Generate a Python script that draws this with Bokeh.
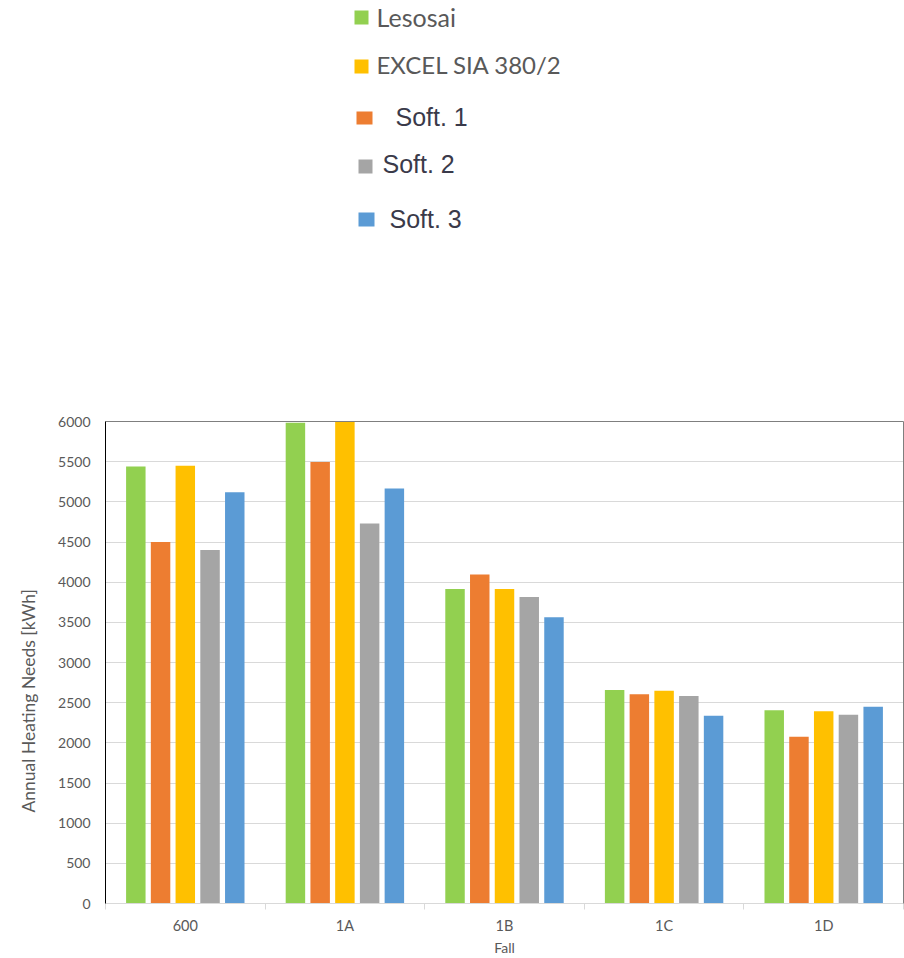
from bokeh.plotting import figure
from bokeh.models import ColumnDataSource, Range1d, LinearAxis, FixedTicker, Title
from bokeh.transform import dodge
from bokeh.layouts import column
from bokeh.core.properties import value
from bokeh.embed import file_html
from bokeh.resources import INLINE

# ---------------- data ----------------
categories = ["600", "1A", "1B", "1C", "1D"]
lesosai = [5440, 5985, 3915, 2657, 2405]
soft1 = [4500, 5495, 4095, 2605, 2075]
excel = [5450, 6000, 3915, 2648, 2392]
soft2 = [4400, 4730, 3815, 2582, 2350]
soft3 = [5120, 5165, 3563, 2338, 2450]
y_ticks = [0, 500, 1000, 1500, 2000, 2500, 3000, 3500, 4000, 4500, 5000, 5500, 6000]

# bar order in the chart and legend order
bar_series = ["Lesosai", "Soft. 1", "EXCEL SIA 380/2", "Soft. 2", "Soft. 3"]
legend_series = ["Lesosai", "EXCEL SIA 380/2", "Soft. 1", "Soft. 2", "Soft. 3"]
y_title = "Annual Heating Needs [kWh]"
x_title = "Fall"

# ---------------- styles ----------------
colors = {
    "Lesosai": "#92d050",
    "EXCEL SIA 380/2": "#ffc000",
    "Soft. 1": "#ed7d31",
    "Soft. 2": "#a5a5a5",
    "Soft. 3": "#5b9bd5",
}
cols = {"Lesosai": "les", "Soft. 1": "s1", "EXCEL SIA 380/2": "ex", "Soft. 2": "s2", "Soft. 3": "s3"}
offsets = [-0.31, -0.155, 0.0, 0.155, 0.31]
bar_width = 0.122
label_color = "#595959"

# category slot centres on a numeric axis (one unit per category)
centers = [i + 0.5 for i in range(len(categories))]
bounds = [float(i) for i in range(len(categories) + 1)]

src = ColumnDataSource(dict(cat=categories, pos=centers, les=lesosai, s1=soft1,
                            ex=excel, s2=soft2, s3=soft3))

FRAME_L, FRAME_R = 105, 903
W = 904
LEG_H = 380

# ---------------- legend panel (top) ----------------
lg = figure(width=W, height=LEG_H, x_range=Range1d(FRAME_L, FRAME_R), y_range=Range1d(LEG_H, 0),
            output_backend="svg", toolbar_location=None, x_axis_location=None,
            y_axis_location=None, min_border=0, min_border_left=FRAME_L,
            min_border_right=W - FRAME_R, outline_line_color=None)
lg.xgrid.visible = False
lg.ygrid.visible = False

# layout of legend entries: square (x0, y0, w, h), text start x, text center y, font, size, color
leg_layout = {
    "Lesosai":         ((354, 10, 14, 14), 376, 16, "Lato", "25px", label_color),
    "EXCEL SIA 380/2": ((354, 59, 14, 14), 376, 64, "Lato", "24px", label_color),
    "Soft. 1":         ((356, 111, 16, 13), 395, 116, "Liberation Sans", "25px", "#3a3a4a"),
    "Soft. 2":         ((358, 159, 14, 14), 382, 163, "Liberation Sans", "25px", "#3a3a4a"),
    "Soft. 3":         ((358, 212, 16, 14), 389, 218, "Liberation Sans", "25px", "#3a3a4a"),
}
for name in legend_series:
    (x0, y0, w, h), tx, ty, font, size, tcol = leg_layout[name]
    lg.rect(x=[x0 + w / 2], y=[y0 + h / 2], width=[w], height=[h],
            fill_color=colors[name], line_color=None)
    lg.text(x=[tx], y=[ty], text=[name], text_font=value(font), text_font_size=size,
            text_color=tcol, text_baseline="middle", text_align="left")

# ---------------- chart ----------------
p = figure(width=W, height=958 - LEG_H,
           x_range=Range1d(0, len(categories)),
           y_range=Range1d(0, 6000),
           output_backend="svg", toolbar_location=None, x_axis_location=None,
           min_border_left=FRAME_L, min_border_right=W - FRAME_R,
           min_border_top=41, min_border_bottom=54,
           outline_line_color=None)

for name, off in zip(bar_series, offsets):
    p.vbar(x=dodge("pos", off), top=cols[name], width=bar_width,
           source=src, fill_color=colors[name], line_color=None)

# grid
p.xgrid.visible = False
p.ygrid.ticker = FixedTicker(ticks=y_ticks)
p.ygrid.grid_line_color = "#d9d9d9"
p.ygrid.grid_line_width = 1

# y axis
ya = p.yaxis[0]
ya.ticker = FixedTicker(ticks=y_ticks)
ya.axis_line_color = "black"
ya.major_tick_line_color = None
ya.minor_tick_line_color = None
ya.major_tick_out = 0
ya.minor_tick_out = 0
ya.major_label_standoff = 15
ya.major_label_text_font = "Lato"
ya.major_label_text_font_size = "14px"
ya.major_label_text_color = label_color

# y axis title (sits lower than the frame centre, as in the original)
p.add_layout(Title(text=y_title, align="left", offset=91, vertical_align="middle", standoff=32,
                   text_font="Lato", text_font_size="17.5px", text_font_style="normal",
                   text_color=label_color), "left")

# x axis: category labels at slot centres, ticks at slot boundaries
xa = LinearAxis(ticker=FixedTicker(ticks=centers, minor_ticks=bounds),
                major_label_overrides={c: lab for c, lab in zip(centers, categories)})
xa.axis_line_color = "#d9d9d9"
xa.major_tick_line_color = None
xa.major_tick_out = 0
xa.minor_tick_line_color = "#d9d9d9"
xa.minor_tick_out = 6
xa.minor_tick_in = 0
xa.major_label_standoff = 7
xa.major_label_text_font = "Lato"
xa.major_label_text_font_size = "14.5px"
xa.major_label_text_color = label_color
xa.axis_label = x_title
xa.axis_label_text_font = "Lato"
xa.axis_label_text_font_size = "14px"
xa.axis_label_text_font_style = "normal"
xa.axis_label_text_color = label_color
xa.axis_label_standoff = 2
p.add_layout(xa, "below")

# top and right frame lines
top = LinearAxis(ticker=FixedTicker(ticks=[]),
                 major_tick_out=0, minor_tick_out=0, major_label_standoff=0,
                 axis_line_color="#7f7f7f")
p.add_layout(top, "above")
right = LinearAxis(ticker=FixedTicker(ticks=[]),
                   major_tick_out=0, minor_tick_out=0, major_label_standoff=0,
                   axis_line_color="#7f7f7f")
p.add_layout(right, "right")

layout = column(lg, p, spacing=0)
open("out.html", "w").write(file_html(layout, INLINE))
